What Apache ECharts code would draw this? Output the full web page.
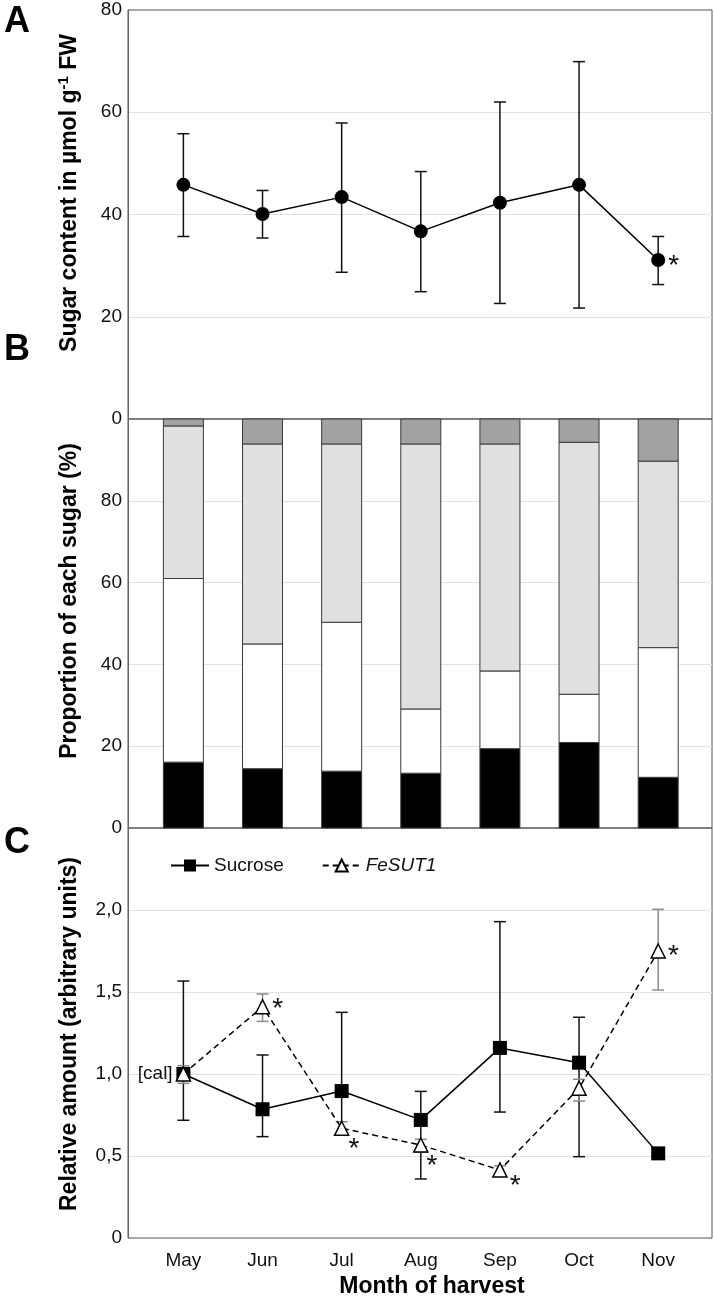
<!DOCTYPE html>
<html>
<head>
<meta charset="utf-8">
<script src="https://cdn.jsdelivr.net/npm/echarts@6/dist/echarts.min.js"></script>
<style>
html,body{margin:0;padding:0;background:#fff;}
#chart{width:714px;height:1300px;}
</style>
</head>
<body>
<div id="chart"></div>
<script>
// ---------- data ----------
const months = ['May', 'Jun', 'Jul', 'Aug', 'Sep', 'Oct', 'Nov'];

// Panel A: total sugar content (µmol g-1 FW)
const sugarMean = [45.8, 40.1, 43.4, 36.7, 42.3, 45.8, 31.1];
const sugarHigh = [55.8, 44.7, 57.9, 48.4, 62.0, 69.9, 35.7];
const sugarLow  = [35.7, 35.4, 28.7, 24.9, 22.6, 21.7, 26.3];

// Panel B: proportion of each sugar (%), stacked bottom -> top
const propBlack     = [16.1, 14.5, 13.9, 13.4, 19.4, 20.9, 12.4];
const propWhite     = [44.9, 30.5, 36.4, 15.7, 19.0, 11.8, 31.7];
const propLightGray = [37.3, 48.9, 43.6, 64.8, 55.5, 61.6, 45.6];
const propDarkGray  = [1.7, 6.1, 6.1, 6.1, 6.1, 5.7, 10.3];

// Panel C: relative amounts
const sucroseRel  = [1.0, 0.785, 0.896, 0.72, 1.159, 1.069, 0.516];
const sucroseHigh = [1.567, 1.116, 1.376, 0.894, 1.929, 1.346, null];
const sucroseLow  = [0.718, 0.618, 0.64, 0.36, 0.768, 0.496, null];
const fesut1Rel   = [1.0, 1.41, 0.669, 0.567, 0.415, 0.913, 1.75];
const fesut1High  = [1.05, 1.488, 0.709, 0.602, 0.44, 0.968, 2.004];
const fesut1Low   = [0.943, 1.321, 0.628, 0.523, 0.39, 0.835, 1.512];

// significance marks
const sugarStar  = [false, false, false, false, false, false, true];
const fesut1Star = [false, true, true, true, true, false, true];

// ---------- styling helpers ----------
const FONT = "'Liberation Sans', Arial, sans-serif";
const tickStyle = {fontSize: 19, color: '#111', fontFamily: FONT, margin: 6};
const segFill = ['#000000', '#ffffff', '#dfe0e2', '#a2a2a4'];
const BAR_W = 40;

function errRender(color, half) {
  return function (params, api) {
    const x = api.value(0), hi = api.value(1), lo = api.value(2);
    const top = api.coord([x, hi]);
    const bot = api.coord([x, lo]);
    const st = {stroke: color, lineWidth: 1.5};
    return {
      type: 'group',
      children: [
        {type: 'line', shape: {x1: top[0], y1: top[1], x2: bot[0], y2: bot[1]}, style: st},
        {type: 'line', shape: {x1: top[0] - half, y1: top[1], x2: top[0] + half, y2: top[1]}, style: st},
        {type: 'line', shape: {x1: bot[0] - half, y1: bot[1], x2: bot[0] + half, y2: bot[1]}, style: st}
      ]
    };
  };
}

function errData(high, low) {
  const out = [];
  high.forEach((h, i) => { if (h !== null && low[i] !== null) out.push([i, h, low[i]]); });
  return out;
}

// stacked proportion bars drawn from the arrays via the axis scales
function stackRender(params, api) {
  const x = api.value(0);
  const vals = [api.value(1), api.value(2), api.value(3), api.value(4)];
  const children = [];
  let base = 0;
  vals.forEach((v, k) => {
    const p0 = api.coord([x, base]);
    const p1 = api.coord([x, base + v]);
    children.push({
      type: 'rect',
      shape: {x: p0[0] - BAR_W / 2, y: p1[1], width: BAR_W, height: p0[1] - p1[1]},
      style: {fill: segFill[k], stroke: '#3a3a3a', lineWidth: 1}
    });
    base += v;
  });
  return {type: 'group', children: children};
}

const starLabel = (offset) => ({
  show: true, formatter: '*', position: 'right', distance: 2,
  offset: offset, fontSize: 28, color: '#111', fontFamily: FONT
});

const fesutStarOffsets = [null, [0, 3], [-3, 21], [-4, 21], [0, 16], null, [0, 5]];

const gridBase = {left: 128, right: 2, show: true, borderColor: '#555', borderWidth: 1};

function xAx(i) {
  const ax = {
    type: 'value', gridIndex: i, min: -0.7, max: 6.68,
    axisLine: {show: false}, axisTick: {show: false}, splitLine: {show: false},
    axisLabel: {show: false}
  };
  if (i === 2) {
    ax.axisLabel = {
      show: true, customValues: [0, 1, 2, 3, 4, 5, 6],
      formatter: v => months[Math.round(v)] || '',
      fontSize: 19, color: '#111', fontFamily: FONT, margin: 13
    };
  }
  return ax;
}

function yAx(i, min, max, interval, fmt) {
  return {
    type: 'value', gridIndex: i, min: min, max: max, interval: interval,
    axisLine: {show: true, onZero: false, lineStyle: {color: '#666', width: 1}},
    axisTick: {show: false},
    axisLabel: Object.assign({}, tickStyle, {formatter: fmt}),
    splitLine: {show: true, showMinLine: false, showMaxLine: false, lineStyle: {color: '#e2e2e2', width: 1}}
  };
}

const option = {
  animation: false,
  backgroundColor: '#fff',
  grid: [
    Object.assign({}, gridBase, {top: 10, height: 409}),
    Object.assign({}, gridBase, {top: 419, height: 409}),
    Object.assign({}, gridBase, {top: 828, height: 410})
  ],
  xAxis: [xAx(0), xAx(1), xAx(2)],
  yAxis: [
    yAx(0, 0, 80, 20, v => String(v)),
    yAx(1, 0, 100, 20, v => (v === 100 ? '' : String(v))),
    yAx(2, 0, 2.5, 0.5, v => (v === 0 ? '0' : (Math.abs(v - 2.5) < 1e-9 ? '' : v.toFixed(1).replace('.', ','))))
  ],
  legend: {
    data: ['Sucrose', 'FeSUT1'],
    left: 165, top: 851,
    itemWidth: 38, itemHeight: 15, itemGap: 38,
    textStyle: {fontSize: 19, color: '#111', fontFamily: FONT, rich: {it: {fontSize: 19, fontStyle: 'italic', fontFamily: FONT, color: '#111'}}},
    formatter: name => (name === 'FeSUT1' ? '{it|FeSUT1}' : name)
  },
  series: [
    // Panel A
    {
      type: 'custom', xAxisIndex: 0, yAxisIndex: 0, z: 2,
      renderItem: errRender('#111', 6),
      encode: {x: 0, y: [1, 2]},
      data: errData(sugarHigh, sugarLow)
    },
    {
      name: 'Sugar', type: 'line', xAxisIndex: 0, yAxisIndex: 0, z: 4,
      symbol: 'circle', symbolSize: 14,
      itemStyle: {color: '#000'}, lineStyle: {color: '#000', width: 1.5},
      data: sugarMean.map((v, i) => (sugarStar[i] ? {value: [i, v], label: starLabel([1, 6])} : [i, v]))
    },
    // Panel B
    {
      type: 'custom', xAxisIndex: 1, yAxisIndex: 1, z: 2,
      renderItem: stackRender,
      encode: {x: 0, y: [1, 2, 3, 4]},
      data: months.map((m, i) => [i, propBlack[i], propWhite[i], propLightGray[i], propDarkGray[i]])
    },
    // Panel C
    {
      type: 'custom', xAxisIndex: 2, yAxisIndex: 2, z: 2,
      renderItem: errRender('#111', 6),
      encode: {x: 0, y: [1, 2]},
      data: errData(sucroseHigh, sucroseLow)
    },
    {
      type: 'custom', xAxisIndex: 2, yAxisIndex: 2, z: 3,
      renderItem: errRender('#8a8a8a', 6),
      encode: {x: 0, y: [1, 2]},
      data: errData(fesut1High, fesut1Low)
    },
    {
      name: 'Sucrose', type: 'line', xAxisIndex: 2, yAxisIndex: 2, z: 4,
      symbol: 'rect', symbolSize: 14,
      itemStyle: {color: '#000'}, lineStyle: {color: '#000', width: 1.5},
      data: sucroseRel.map((v, i) => [i, v])
    },
    {
      name: 'FeSUT1', type: 'line', xAxisIndex: 2, yAxisIndex: 2, z: 5,
      symbol: 'triangle', symbolSize: 14,
      itemStyle: {color: '#fff', borderColor: '#000', borderWidth: 1.5},
      lineStyle: {color: '#000', width: 1.5, type: [6, 4]},
      data: fesut1Rel.map((v, i) => {
        if (i === 0) {
          return {value: [i, v], label: {show: true, formatter: '[cal]', position: 'left', distance: 3, fontSize: 19, color: '#111', fontFamily: FONT}};
        }
        if (fesut1Star[i]) return {value: [i, v], label: starLabel(fesutStarOffsets[i])};
        return [i, v];
      })
    }
  ],
  graphic: [
    {type: 'text', x: 17, y: 22, style: {text: 'A', fontSize: 36, fontWeight: 'bold', fontFamily: FONT, fill: '#000', align: 'center', verticalAlign: 'middle'}},
    {type: 'text', x: 17, y: 350, style: {text: 'B', fontSize: 36, fontWeight: 'bold', fontFamily: FONT, fill: '#000', align: 'center', verticalAlign: 'middle'}},
    {type: 'text', x: 17, y: 843, style: {text: 'C', fontSize: 36, fontWeight: 'bold', fontFamily: FONT, fill: '#000', align: 'center', verticalAlign: 'middle'}},
    {type: 'text', x: 70, y: 193, rotation: Math.PI / 2,
     style: {text: 'Sugar content in µmol g{sup|-1} FW', fontSize: 23, fontWeight: 'bold', fontFamily: FONT, fill: '#000', align: 'center', verticalAlign: 'middle',
             rich: {sup: {fontSize: 15, fontWeight: 'bold', fontFamily: FONT, fill: '#000', verticalAlign: 'top', padding: [0, 0, 12, 0]}}}},
    {type: 'text', x: 70, y: 601, rotation: Math.PI / 2,
     style: {text: 'Proportion of each sugar (%)', fontSize: 23, fontWeight: 'bold', fontFamily: FONT, fill: '#000', align: 'center', verticalAlign: 'middle'}},
    {type: 'text', x: 70, y: 1034, rotation: Math.PI / 2,
     style: {text: 'Relative amount (arbitrary units)', fontSize: 23, fontWeight: 'bold', fontFamily: FONT, fill: '#000', align: 'center', verticalAlign: 'middle'}},
    {type: 'text', x: 432, y: 1287,
     style: {text: 'Month of harvest', fontSize: 23, fontWeight: 'bold', fontFamily: FONT, fill: '#000', align: 'center', verticalAlign: 'middle'}}
  ]
};

const chart = echarts.init(document.getElementById('chart'), null, {renderer: 'canvas'});
chart.setOption(option);
</script>
</body>
</html>
